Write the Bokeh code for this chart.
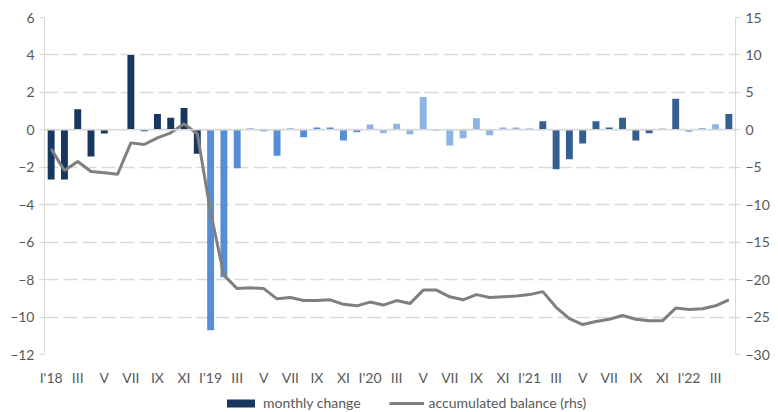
from bokeh.plotting import figure
from bokeh.layouts import column
from bokeh.models import (Range1d, LinearAxis, FixedTicker, Span, Legend, LegendItem,
                          ColumnDataSource)
from bokeh.embed import file_html
from bokeh.resources import INLINE

months = ["I'18", "II", "III", "IV", "V", "VI", "VII", "VIII", "IX", "X", "XI", "XII",
          "I'19", "II", "III", "IV", "V", "VI", "VII", "VIII", "IX", "X", "XI", "XII",
          "I'20", "II", "III", "IV", "V", "VI", "VII", "VIII", "IX", "X", "XI", "XII",
          "I'21", "II", "III", "IV", "V", "VI", "VII", "VIII", "IX", "X", "XI", "XII",
          "I'22", "II", "III", "IV"]

monthly_change = [-2.65, -2.65, 1.1, -1.43, -0.2, 0.02, 4.0, -0.07, 0.85, 0.64, 1.17, -1.28,
                  -10.7, -7.87, -2.05, 0.07, -0.07, -1.39, 0.07, -0.4, 0.12, 0.12, -0.57, -0.13,
                  0.28, -0.18, 0.33, -0.24, 1.76, -0.05, -0.84, -0.45, 0.62, -0.29, 0.12, 0.12,
                  0.06, 0.46, -2.1, -1.57, -0.73, 0.46, 0.12, 0.64, -0.57, -0.18, 0.06, 1.66,
                  -0.12, 0.1, 0.3, 0.85]

accumulated_balance = [-2.54, -5.43, -4.23, -5.57, -5.74, -5.93, -1.74, -1.96, -1.07, -0.4, 0.8, -0.53,
                       -11.0, -19.4, -21.2, -21.1, -21.2, -22.57, -22.4, -22.8, -22.8, -22.7, -23.3, -23.5,
                       -23.0, -23.4, -22.8, -23.2, -21.4, -21.4, -22.3, -22.7, -22.0, -22.4, -22.3, -22.2,
                       -22.0, -21.6, -23.7, -25.2, -26.0, -25.6, -25.3, -24.8, -25.3, -25.5, -25.5, -23.8,
                       -24.0, -23.9, -23.5, -22.7]

bar_colors = (["#17375E"] * 12 + ["#558ED5"] * 12 + ["#8DB4E2"] * 12 +
              ["#355F91"] * 12 + ["#8DB4E2"] * 3 + ["#355F91"])

left_ticks = [6, 4, 2, 0, -2, -4, -6, -8, -10, -12]
right_ticks = [15, 10, 5, 0, -5, -10, -15, -20, -25, -30]

FONT = "Lato"
TXT = "#595959"
GRID = "#D9D9D9"

x = list(range(len(months)))
src = ColumnDataSource(dict(x=x, m=monthly_change, a=accumulated_balance, c=bar_colors))

p = figure(width=772, height=388, output_backend="svg", toolbar_location=None,
           x_range=Range1d(-0.5, len(months) - 0.5), y_range=Range1d(-12, 6),
           min_border_left=44, min_border_right=34, min_border_top=17, min_border_bottom=30)
p.extra_y_ranges = {"rhs": Range1d(-30, 15)}
p.outline_line_color = None
p.background_fill_color = "white"

# grid
p.xgrid.grid_line_color = None
p.ygrid.grid_line_color = GRID
p.ygrid.grid_line_width = 1.5
p.ygrid.grid_line_dash = "14 5"
p.ygrid.ticker = FixedTicker(ticks=left_ticks)

# bars
bars = p.vbar(x="x", top="m", bottom=0, width=0.52, fill_color="c", line_color=None, source=src)

# zero line
p.add_layout(Span(location=0, dimension="width", line_color=GRID, line_width=1.5))

# accumulated balance line
ln = p.line(x="x", y="a", y_range_name="rhs", line_color="#7F7F7F", line_width=3, source=src)

# left axis
ya = p.yaxis[0]
ya.ticker = FixedTicker(ticks=left_ticks)
ya.axis_line_color = GRID
ya.major_tick_line_color = GRID
ya.major_tick_out = 5
ya.major_tick_in = 0
ya.minor_tick_line_color = None
ya.major_label_text_font = FONT
ya.major_label_text_font_size = "14px"
ya.major_label_text_color = TXT
ya.major_label_standoff = 5

# right axis
ra = LinearAxis(y_range_name="rhs", ticker=FixedTicker(ticks=right_ticks))
ra.axis_line_color = GRID
ra.major_tick_line_color = GRID
ra.major_tick_out = 5
ra.major_tick_in = 0
ra.minor_tick_line_color = None
ra.major_label_text_font = FONT
ra.major_label_text_font_size = "14px"
ra.major_label_text_color = TXT
ra.major_label_standoff = 5
p.add_layout(ra, "right")

# x axis
xa = p.xaxis[0]
xa.ticker = FixedTicker(ticks=x[::2])
xa.major_label_overrides = {i: months[i] for i in x[::2]}
xa.axis_line_color = None
xa.major_tick_line_color = None
xa.minor_tick_line_color = None
xa.major_label_text_font = FONT
xa.major_label_text_font_size = "14px"
xa.major_label_text_color = TXT
xa.major_label_standoff = 8

# legend strip below the chart (its renderers sit outside its visible ranges)
lf = figure(width=772, height=24, output_backend="svg", toolbar_location=None,
            x_range=Range1d(1000, 1001), y_range=Range1d(1000, 1001),
            x_axis_location=None, y_axis_location=None, min_border=0)
lf.outline_line_color = None
lf.grid.grid_line_color = None
lbars = lf.vbar(x="x", top="m", bottom=0, width=0.52, fill_color="c", line_color=None, source=src)
lline = lf.line(x="x", y="a", line_color="#7F7F7F", line_width=3, source=src)

legend = Legend(items=[LegendItem(label="monthly change", renderers=[lbars], index=0),
                       LegendItem(label="accumulated balance (rhs)", renderers=[lline])],
                orientation="horizontal", location=(179, 1),
                border_line_color=None, background_fill_alpha=0,
                label_text_font=FONT, label_text_font_size="14px", label_text_color=TXT,
                label_height=16, glyph_width=35, glyph_height=10, spacing=28,
                padding=0, margin=0, label_standoff=5)
lf.add_layout(legend, "center")

layout = column(p, lf, spacing=0)
open("out.html", "w").write(file_html(layout, INLINE))
